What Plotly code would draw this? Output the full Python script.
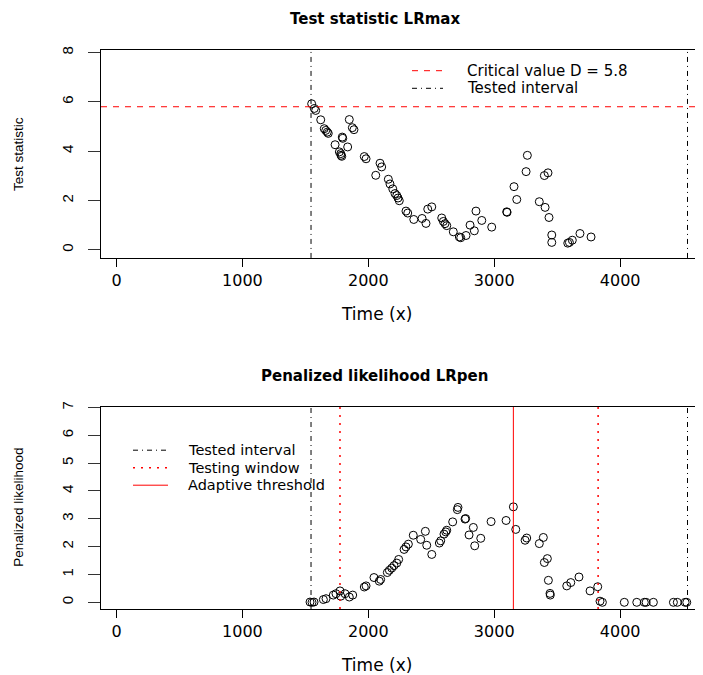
import plotly.graph_objects as go

# top panel: LRmax test statistic
lrmax_x = [1550, 1571, 1582, 1622, 1650, 1662, 1674, 1682, 1736, 1770, 1781, 1783, 1789,
           1793, 1797, 1836, 1849, 1873, 1886, 1968, 1982, 2059, 2093, 2106, 2159, 2172,
           2194, 2212, 2226, 2236, 2246, 2299, 2313, 2361, 2427, 2458, 2472, 2504, 2583,
           2596, 2609, 2623, 2675, 2723, 2734, 2776, 2808, 2842, 2855, 2901, 2980, 3099,
           3102, 3157, 3179, 3253, 3263, 3358, 3398, 3404, 3427, 3435, 3457, 3457, 3584,
           3597, 3620, 3681, 3769]
lrmax_y = [5.92, 5.73, 5.65, 5.27, 4.91, 4.84, 4.77, 4.72, 4.26, 3.97, 3.90, 3.83, 3.79,
           4.57, 4.52, 4.17, 5.28, 4.95, 4.87, 3.78, 3.69, 3.02, 3.51, 3.36, 2.86, 2.67,
           2.47, 2.28, 2.20, 2.10, 1.99, 1.57, 1.49, 1.23, 1.27, 1.07, 1.65, 1.74, 1.29,
           1.15, 1.06, 0.98, 0.73, 0.52, 0.49, 0.58, 1.00, 0.77, 1.57, 1.19, 0.92, 1.54,
           1.52, 2.56, 2.04, 3.17, 3.83, 1.95, 3.01, 1.72, 3.12, 1.31, 0.60, 0.30, 0.27,
           0.30, 0.39, 0.66, 0.52]

# bottom panel: penalized likelihood
lrpen_x = [1537, 1553, 1569, 1643, 1664, 1722, 1743, 1775, 1781, 1815, 1849, 1876, 1968,
           1982, 2045, 2087, 2098, 2151, 2167, 2186, 2204, 2226, 2241, 2284, 2299, 2318,
           2357, 2416, 2453, 2464, 2504, 2564, 2575, 2601, 2615, 2623, 2670, 2707, 2712,
           2768, 2773, 2800, 2834, 2845, 2893, 2975, 3094, 3152, 3171, 3245, 3258, 3358,
           3390, 3398, 3422, 3430, 3443, 3445, 3576, 3608, 3673, 3761, 3822, 3840, 3859,
           4033, 4132, 4192, 4206, 4264, 4423, 4454, 4516, 4529]
lrpen_y = [0.01, 0.00, 0.01, 0.10, 0.13, 0.26, 0.31, 0.41, 0.22, 0.31, 0.19, 0.26, 0.55,
           0.59, 0.89, 0.76, 0.82, 1.07, 1.15, 1.23, 1.32, 1.41, 1.54, 1.90, 1.99, 2.09,
           2.41, 2.26, 2.55, 2.05, 1.72, 2.13, 2.21, 2.45, 2.53, 2.59, 2.89, 3.33, 3.41,
           2.99, 3.01, 2.42, 2.69, 2.03, 2.30, 2.90, 2.94, 3.43, 2.62, 2.23, 2.31, 2.11,
           2.33, 1.43, 1.57, 0.79, 0.32, 0.26, 0.59, 0.71, 0.91, 0.41, 0.56, 0.04, 0.00,
           0.00, 0.00, 0.00, 0.00, 0.00, 0.00, 0.00, 0.00, 0.00]

crit_value = 5.8
tested_interval = [1545, 4535]
testing_window = [1775, 3825]
adaptive_threshold = 3152

x_range = [-123, 4658]
y1_range = [-0.33, 8.1]
y2_range = [-0.24, 7.03]

RED = "#FF0000"
DASHDOT = "5px,4px,1px,4px"
DASHED = "6px,6px"
DOTTED = "2px,6px"

W, H = 695, 667
ML, MT, MB = 93, 42, 66


def vlines(xs, lo, hi):
    vx, vy = [], []
    for v in xs:
        vx += [v, v, None]
        vy += [lo, hi, None]
    return vx, vy


# page pixel -> paper fraction (page is offset 8px by the body margin)
def px(p):
    return (p - 8 - ML) / (W - ML)


def py(p):
    return (H - MB - (p - 8)) / (H - MT - MB)


fig = go.Figure()

circ = dict(symbol="circle-open", size=8, color="black", line=dict(width=1, color="black"))

fig.add_trace(go.Scatter(x=lrmax_x, y=lrmax_y, mode="markers", marker=circ,
                         xaxis="x", yaxis="y"))
fig.add_trace(go.Scatter(x=x_range, y=[crit_value, crit_value], mode="lines",
                         line=dict(color=RED, width=1, dash=DASHED),
                         name="Critical value D = 5.8", xaxis="x", yaxis="y"))
tx, ty = vlines(tested_interval, y1_range[0], y1_range[1])
fig.add_trace(go.Scatter(x=tx, y=ty, mode="lines",
                         line=dict(color="black", width=1, dash=DASHDOT),
                         name="Tested interval", xaxis="x", yaxis="y"))

fig.add_trace(go.Scatter(x=lrpen_x, y=lrpen_y, mode="markers", marker=circ,
                         xaxis="x2", yaxis="y2"))
tx, ty = vlines(tested_interval, y2_range[0], y2_range[1])
fig.add_trace(go.Scatter(x=tx, y=ty, mode="lines",
                         line=dict(color="black", width=1, dash=DASHDOT),
                         name="Tested interval", xaxis="x2", yaxis="y2"))
wx, wy = vlines(testing_window, y2_range[0], y2_range[1])
fig.add_trace(go.Scatter(x=wx, y=wy, mode="lines",
                         line=dict(color=RED, width=1.5, dash=DOTTED),
                         name="Testing window", xaxis="x2", yaxis="y2"))
ax, ay = vlines([adaptive_threshold], y2_range[0], y2_range[1])
fig.add_trace(go.Scatter(x=ax, y=ay, mode="lines", line=dict(color=RED, width=1),
                         name="Adaptive threshold", xaxis="x2", yaxis="y2"))

hfont = dict(family="DejaVu Sans", size=16, color="black")
vfont = dict(family="Liberation Sans", size=15, color="black")

xax = dict(range=x_range, tickvals=[0, 1000, 2000, 3000, 4000], ticks="outside",
           ticklen=8, tickcolor="black", showline=True, linecolor="black", linewidth=1,
           mirror=True, showgrid=False, zeroline=False, tickfont=hfont,
           ticklabelstandoff=0)
yax = dict(ticks="outside", ticklen=12, tickcolor="#333", showline=True,
           linecolor="black", linewidth=1, showgrid=False, zeroline=False,
           tickangle=-90, tickfont=vfont, ticklabelstandoff=9)

fig.update_layout(
    width=W, height=H,
    margin=dict(l=ML, r=0, t=MT, b=MB),
    paper_bgcolor="white", plot_bgcolor="white",
    font=hfont, showlegend=False,
    xaxis=dict(xax, domain=[0, 1], anchor="y"),
    yaxis=dict(yax, domain=[0.628, 1], range=y1_range, tickvals=[0, 2, 4, 6, 8], anchor="x"),
    xaxis2=dict(xax, domain=[0, 1], anchor="y2"),
    yaxis2=dict(yax, domain=[0, 0.362], range=y2_range, tickvals=list(range(8)), anchor="x2"),
)

titles = [("Test statistic LRmax", "Test statistic", "x", "y"),
          ("Penalized likelihood LRpen", "Penalized likelihood", "x2", "y2")]
for main, ylab, xa, ya in titles:
    fig.add_annotation(text="<b>%s</b>" % main, xref=xa + " domain", yref=ya + " domain",
                       x=0.455, y=1, yshift=31, showarrow=False, yanchor="middle",
                       font=dict(family="DejaVu Sans", size=15, color="black"))
    fig.add_annotation(text="Time (x)", xref=xa + " domain", yref=ya + " domain",
                       x=0.458, y=0, yshift=-56, showarrow=False, yanchor="middle",
                       font=dict(family="DejaVu Sans", size=17, color="black"))
    fig.add_annotation(text=ylab, xref=xa + " domain", yref=ya + " domain",
                       x=0, y=0.5, xshift=-82, textangle=-90, showarrow=False,
                       xanchor="center", font=dict(family="Liberation Sans", size=13.5,
                                                    color="black"))

# R-style legends (no box): key line, then label; rows sit tight like base R
legends = [
    ((412, 443, 466), [70.7, 88.3], 15,
     [("Critical value D = 5.8", RED, DASHED, 1), ("Tested interval", "black", DASHDOT, 1)]),
    ((133, 168, 187), [450.2, 467.7, 485.2], 14.5,
     [("Tested interval", "black", DASHDOT, 1), ("Testing window", RED, DOTTED, 1.5),
      ("Adaptive threshold", RED, "solid", 1)]),
]
for (k0, k1, tx0), rows, fsize, items in legends:
    for yy, (label, col, dash, lw) in zip(rows, items):
        fig.add_shape(type="line", xref="paper", yref="paper", x0=px(k0), x1=px(k1),
                      y0=py(yy), y1=py(yy), line=dict(color=col, width=lw, dash=dash))
        fig.add_annotation(text=label, xref="paper", yref="paper", x=px(tx0), y=py(yy),
                           xanchor="left", yanchor="middle", showarrow=False,
                           borderpad=0, font=dict(family="DejaVu Sans", size=fsize,
                                                  color="black"))

fig.write_html("out.html")
